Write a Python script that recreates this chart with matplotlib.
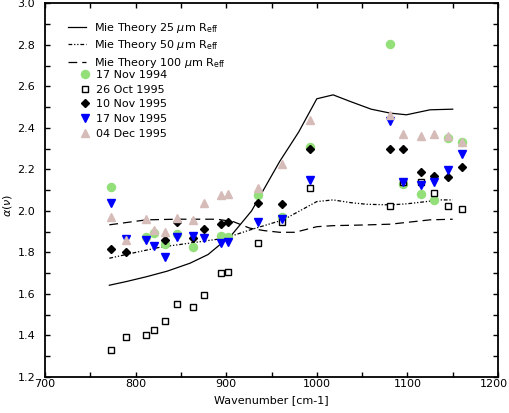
import matplotlib
matplotlib.use("Agg")
import matplotlib.pyplot as plt
import matplotlib.transforms as mtransforms
from matplotlib.ticker import MultipleLocator, FormatStrFormatter

# ---- data ----
m25_wn = [771, 790, 812, 835, 860, 880, 891, 906, 928, 959, 980, 1000, 1018, 1037, 1060, 1081, 1099, 1125, 1150]
m25 = [1.642, 1.66, 1.683, 1.71, 1.748, 1.79, 1.83, 1.884, 2.00, 2.238, 2.38, 2.54, 2.559, 2.527, 2.49, 2.471, 2.463, 2.487, 2.490]

m50_wn = [771, 800, 827, 860, 893, 910, 926, 963, 1000, 1018, 1037, 1055, 1081, 1099, 1121, 1136, 1150]
m50 = [1.772, 1.80, 1.825, 1.845, 1.865, 1.885, 1.908, 1.957, 2.045, 2.053, 2.040, 2.032, 2.029, 2.034, 2.045, 2.053, 2.053]

m100_wn = [771, 812, 845, 890, 908, 926, 942, 959, 976, 1000, 1018, 1050, 1081, 1100, 1125, 1150]
m100 = [1.933, 1.957, 1.960, 1.960, 1.948, 1.917, 1.905, 1.897, 1.897, 1.924, 1.929, 1.932, 1.936, 1.945, 1.957, 1.960]

nov94_wn = [773, 811, 820, 832, 846, 863, 894, 902, 935, 962, 992, 1081, 1095, 1115, 1129, 1145, 1160]
nov94 = [2.114, 1.876, 1.892, 1.841, 1.889, 1.825, 1.881, 1.873, 2.077, 1.973, 2.307, 2.805, 2.129, 2.080, 2.053, 2.353, 2.33]

oct95_wn = [773, 789, 811, 820, 832, 846, 863, 875, 894, 902, 935, 962, 992, 1081, 1095, 1115, 1129, 1145, 1160]
oct95 = [1.330, 1.391, 1.401, 1.426, 1.468, 1.550, 1.539, 1.594, 1.701, 1.704, 1.844, 1.946, 2.109, 2.023, 2.141, 2.141, 2.085, 2.026, 2.008]

nov10_wn = [773, 789, 832, 846, 863, 875, 894, 902, 935, 962, 992, 1081, 1095, 1115, 1129, 1145, 1160]
nov10 = [1.817, 1.802, 1.860, 1.946, 1.868, 1.913, 1.936, 1.946, 2.040, 2.034, 2.297, 2.297, 2.297, 2.189, 2.169, 2.162, 2.213]

nov17_wn = [773, 789, 811, 820, 832, 846, 863, 875, 894, 902, 935, 962, 992, 1081, 1095, 1115, 1129, 1145, 1160]
nov17 = [2.037, 1.865, 1.860, 1.831, 1.780, 1.876, 1.881, 1.871, 1.847, 1.851, 1.946, 1.960, 2.149, 2.434, 2.141, 2.125, 2.141, 2.198, 2.275]

dec04_wn = [773, 789, 811, 820, 832, 846, 863, 875, 894, 902, 935, 962, 992, 1081, 1095, 1115, 1129, 1145, 1160]
dec04 = [1.972, 1.860, 1.960, 1.908, 1.899, 1.965, 1.957, 2.037, 2.075, 2.080, 2.112, 2.225, 2.439, 2.463, 2.371, 2.361, 2.371, 2.363, 2.334]

line_labels = [r"Mie Theory 25 $\mu$m R$_{\mathrm{eff}}$",
               r"Mie Theory 50 $\mu$m R$_{\mathrm{eff}}$",
               r"Mie Theory 100 $\mu$m R$_{\mathrm{eff}}$"]
obs_labels = ["17 Nov 1994", "26 Oct 1995", "10 Nov 1995", "17 Nov 1995", "04 Dec 1995"]

plt.rcParams['font.family'] = ['DejaVu Sans']
plt.rcParams['font.size'] = 8
plt.rcParams['mathtext.fontset'] = 'dejavusans'

fig = plt.figure(figsize=(5.10, 4.13), dpi=100)
W, H = 510, 413
ax = fig.add_axes([45 / W, 36 / H, 453 / W, (377 - 3.3) / H])

l1, = ax.plot(m25_wn, m25, color='black', lw=0.9, ls='-')
l2, = ax.plot(m50_wn, m50, color='black', lw=0.9, ls=(0, (3, 1.5, 1, 1.5, 1, 1.5)))
l3, = ax.plot(m100_wn, m100, color='black', lw=0.9, ls=(0, (7, 4)))

p1, = ax.plot(nov94_wn, nov94, ls='none', marker='o', ms=5.8, color='#93e07a', mec='#93e07a')
p2, = ax.plot(oct95_wn, oct95, ls='none', marker='s', ms=4.3, mfc='white', mec='black', mew=1)
p3, = ax.plot(nov10_wn, nov10, ls='none', marker='D', ms=3.8, color='black')
p4, = ax.plot(nov17_wn, nov17, ls='none', marker='v', ms=6.2, color='#0000ff')
p5, = ax.plot(dec04_wn, dec04, ls='none', marker='^', ms=6.2, color='#d6bcb8')

ax.set_xlim(700, 1200)
ax.set_ylim(1.2, 3.0)
ax.xaxis.set_major_locator(MultipleLocator(100))
ax.xaxis.set_minor_locator(MultipleLocator(50))
ax.yaxis.set_major_locator(MultipleLocator(0.2))
ax.yaxis.set_minor_locator(MultipleLocator(0.1))
ax.yaxis.set_major_formatter(FormatStrFormatter('%.1f'))
ax.tick_params(which='both', direction='in', top=True, right=True, length=3.5, width=1)
ax.tick_params(axis='x', pad=1.5)
ax.tick_params(axis='y', pad=7)
for s in ax.spines.values():
    s.set_linewidth(1.3)

ax.set_xlabel("Wavenumber [cm-1]", labelpad=4)
ax.set_ylabel(r"$\alpha(\nu)$")
ax.yaxis.set_label_coords((14 - 45) / 453, 0.46)

# legends
leg1 = ax.legend([l1, l2, l3], line_labels, loc='upper left', frameon=False,
                 bbox_to_anchor=((68 - 45) / 453, (377 - 21) / 373.7),
                 borderaxespad=0, borderpad=0, handlelength=1.6, handletextpad=0.75,
                 labelspacing=0.3)
ax.add_artist(leg1)
leg2 = ax.legend([p1, p2, p3, p4, p5], obs_labels, loc='upper left', frameon=False,
                 bbox_to_anchor=((80 - 45) / 453, (377 - 70) / 373.7),
                 borderaxespad=0, borderpad=0, handlelength=0.9, handletextpad=0.55,
                 labelspacing=0.42, numpoints=1)

fig.canvas.draw()
for tick in ax.xaxis.get_major_ticks():
    if tick.label1.get_text() == '1200':
        tick.label1.set_transform(tick.label1.get_transform() +
                                  mtransforms.ScaledTranslation(-4 / 100, 0, fig.dpi_scale_trans))

fig.savefig("out.png", dpi=100)
